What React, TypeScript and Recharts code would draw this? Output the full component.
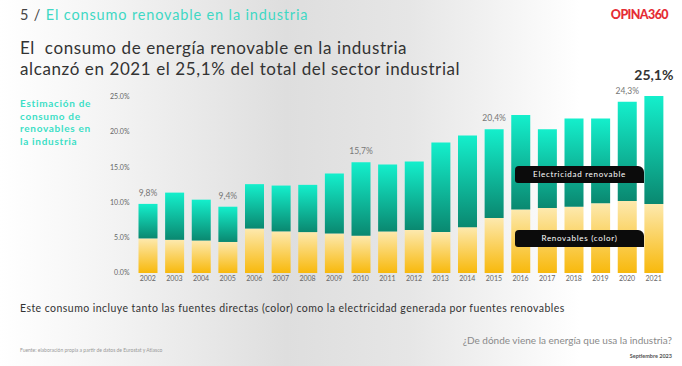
import { BarChart, Bar, XAxis, YAxis, LabelList } from 'recharts';

const years = [
    '2002', '2003', '2004', '2005', '2006', '2007', '2008', '2009', '2010', '2011',
    '2012', '2013', '2014', '2015', '2016', '2017', '2018', '2019', '2020', '2021'
];

// renovables directas (color), parte amarilla
const directas = [4.9, 4.7, 4.6, 4.4, 6.3, 5.9, 5.8, 5.6, 5.3, 5.9, 6.1, 5.8, 6.5, 7.8, 9.0, 9.2, 9.4, 9.9, 10.2, 9.8];

// electricidad renovable, parte verde
const electricidad = [4.9, 6.7, 5.8, 5.0, 6.3, 6.5, 6.7, 8.5, 10.4, 9.5, 9.7, 12.7, 13.0, 12.6, 13.4, 11.2, 12.5, 12.0, 14.1, 15.3];

const etiquetas = ['9,8%', '', '', '9,4%', '', '', '', '', '15,7%', '', '', '', '', '20,4%', '', '', '', '', '24,3%', '25,1%'];

const yTicks = [0, 5, 10, 15, 20, 25];

const data = years.map((year, i) => ({
    year,
    directas: directas[i],
    electricidad: electricidad[i],
    etiqueta: etiquetas[i]
}));

const font = 'Lato, "Open Sans", sans-serif';

const renderEtiqueta = (props: any) => {
    const { x, y, width, value, index } = props;
    if (!value) return null;
    const last = index === years.length - 1;
    return (
        <text
            x={x + width / 2}
            y={last ? y - 16 : y - 8}
            textAnchor="middle"
            fontFamily={font}
            fontSize={last ? 14 : 8.5}
            fontWeight={last ? 700 : 400}
            fill={last ? '#333' : '#777'}
        >
            {value}
        </text>
    );
};

const legendBox = {
    position: 'absolute' as const, left: 515, width: 129, height: 17, background: '#0b0b0b', color: '#fff',
    borderRadius: '4px 6px 0 3px', fontSize: 8, lineHeight: '17px', textAlign: 'center' as const, letterSpacing: 0.7
};

const App = () => {
    return (
        <div style={{
            position: 'absolute', top: 0, left: 0, width: 682, height: 366, overflow: 'hidden',
            background: 'linear-gradient(90deg, #ffffff 0%, #f2f2f2 18%, #dedede 42%, #e6e6e6 60%, #ffffff 85%)',
            fontFamily: font
        }}>
            <div style={{ position: 'absolute', left: 20, top: 6, fontSize: 14.5, color: '#444', whiteSpace: 'nowrap', letterSpacing: 0.85 }}>
                5 / <span style={{ color: '#3fd8c4' }}>El consumo renovable en la industria</span>
            </div>
            <div style={{ position: 'absolute', right: 14, top: 7, fontSize: 12.5, fontWeight: 900, color: '#e52d35', letterSpacing: -0.6 }}>
                OPINA360
            </div>
            <div style={{ position: 'absolute', left: 20, top: 37, fontSize: 17, lineHeight: '21px', color: '#333', letterSpacing: 0.6, whiteSpace: 'nowrap' }}>
                El&nbsp; consumo de energía renovable en la industria<br />
                alcanzó en 2021 el 25,1% del total del sector industrial
            </div>
            <div style={{ position: 'absolute', left: 20, top: 97, fontSize: 10, lineHeight: '12.6px', fontWeight: 700, color: '#3ddfc6', letterSpacing: 0.7 }}>
                Estimación de<br />consumo de<br />renovables en<br />la industria
            </div>

            <div style={{ position: 'absolute', left: 0, top: 0 }}>
                <BarChart width={682} height={366} data={data} margin={{ top: 96, right: 15, bottom: 79, left: 100 }}>
                    <defs>
                        <linearGradient id="gradVerde" x1="0" y1="0" x2="0" y2="1">
                            <stop offset="0%" stopColor="#14efcc" />
                            <stop offset="100%" stopColor="#0a8870" />
                        </linearGradient>
                        <linearGradient id="gradAmarillo" x1="0" y1="0" x2="0" y2="1">
                            <stop offset="0%" stopColor="#fde9ae" />
                            <stop offset="100%" stopColor="#f8b90c" />
                        </linearGradient>
                    </defs>
                    <XAxis dataKey="year" axisLine={false} tickLine={false} tickSize={0} tickMargin={3} height={14}
                        tick={{ fontSize: 7, fill: '#666', fontFamily: font }} interval={0} />
                    <YAxis width={34.5} domain={[0, 25.1]} ticks={yTicks} axisLine={false} tickLine={false} tickSize={0} tickMargin={5}
                        tickFormatter={(v: number) => v.toFixed(1) + '%'}
                        tick={{ fontSize: 7, fill: '#666', fontFamily: font }} />
                    <Bar dataKey="directas" stackId="a" fill="url(#gradAmarillo)" barSize={19} isAnimationActive={false} />
                    <Bar dataKey="electricidad" stackId="a" fill="url(#gradVerde)" barSize={19} isAnimationActive={false}>
                        <LabelList dataKey="etiqueta" content={renderEtiqueta} />
                    </Bar>
                </BarChart>
            </div>

            <div style={{ ...legendBox, top: 166 }}>Electricidad renovable</div>
            <div style={{ ...legendBox, top: 230 }}>Renovables (color)</div>

            <div style={{ position: 'absolute', left: 20, top: 302, fontSize: 10.5, color: '#333', whiteSpace: 'nowrap', letterSpacing: 0.45 }}>
                Este consumo incluye tanto las fuentes directas (color) como la electricidad generada por fuentes renovables
            </div>
            <div style={{ position: 'absolute', left: 20, top: 347, fontSize: 5, color: '#999', whiteSpace: 'nowrap' }}>
                Fuente: elaboración propia a partir de datos de Eurostat y Atlasco
            </div>
            <div style={{ position: 'absolute', right: 10, top: 334, fontSize: 10, color: '#8a8a8a', whiteSpace: 'nowrap' }}>
                ¿De dónde viene la energía que usa la industria?
            </div>
            <div style={{ position: 'absolute', right: 10, top: 353, fontSize: 5.5, fontWeight: 700, color: '#555', whiteSpace: 'nowrap' }}>
                Septiembre 2023
            </div>
        </div>
    );
};

export default App;
